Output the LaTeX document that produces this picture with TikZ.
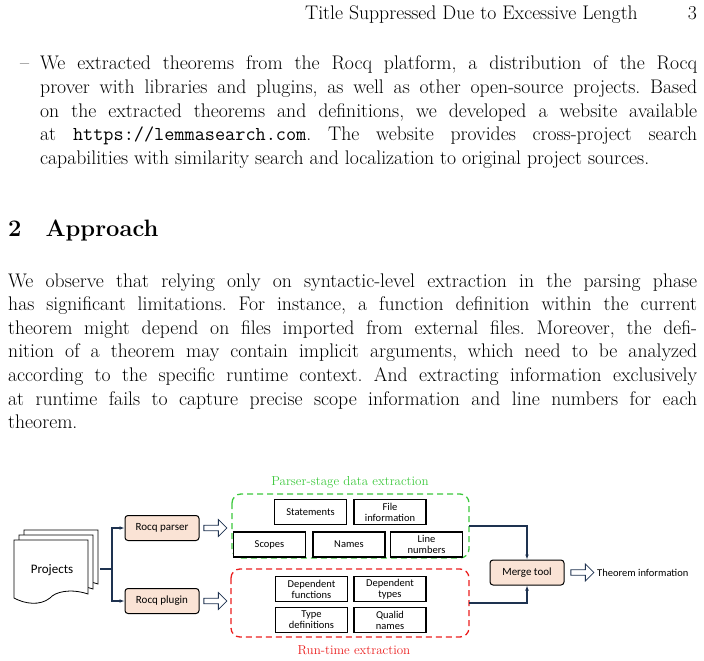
\documentclass[tikz,border=0pt]{standalone}
\usepackage{fontspec}
\setmainfont{Latin Modern Roman}
\newfontfamily\carlf{Carlito}
\usetikzlibrary{shapes.arrows,arrows.meta}
\definecolor{pk}{RGB}{250,227,213}
\definecolor{gr}{RGB}{60,200,60}
\definecolor{rd}{RGB}{235,30,30}
\definecolor{ln}{RGB}{30,50,80}
\tikzset{
  body/.style={inner sep=0pt,anchor=base west,align=justify,font=\frenchspacing\fontsize{19.7}{23.65}\selectfont},
  item/.style={draw,line width=1.2pt,fill=white,minimum width=72pt,minimum height=25pt,inner sep=1pt,align=center,font=\carlf\fontsize{10.5}{11}\selectfont},
  tool/.style={draw,line width=1pt,rounded corners=3pt,fill=pk,minimum width=74pt,minimum height=25pt,font=\carlf\fontsize{11}{12}\selectfont},
  hol/.style={single arrow,draw=ln,fill=white,line width=0.8pt,minimum height=23pt,minimum width=17pt,single arrow head extend=3pt,inner sep=1pt},
  conn/.style={ln,line width=1.2pt,-{Latex[length=5pt]}},
  grp/.style={dashed,line width=1.3pt,rounded corners=9pt,dash pattern=on 6pt off 4pt}
}
\begin{document}
\begin{tikzpicture}[x=1pt,y=-1pt]
\useasboundingbox (0,0) rectangle (704,661);
% header
\node[anchor=base east,inner sep=0,font=\fontsize{19.7}{23}\selectfont] (hd) at (638,20) {Title Suppressed Due to Excessive Length};
\node[anchor=base east,inner sep=0,font=\fontsize{19.7}{23}\selectfont] (pg) at (697,20) {3};
% bullet
\node[anchor=base west,inner sep=0,font=\fontsize{19.7}{23}\selectfont] (dash) at (20,70) {--};
\node[body,text width=657pt] (it) at (40,70) {We extracted theorems from the Rocq platform, a distribution of the Rocq\linebreak prover with libraries and plugins, as well as other open-source projects. Based\linebreak on the extracted theorems and definitions, we developed a website available\linebreak at \texttt{https://lemmasearch.com}. The website provides cross-project search\linebreak capabilities with similarity search and localization to original project sources.};
% section
\node[anchor=base west,inner sep=0,font=\bfseries\fontsize{23.7}{27}\selectfont] (sec) at (8,236) {2\hspace{24pt}Approach};
\node[body,text width=689pt] (par) at (8,287) {We observe that relying only on syntactic-level extraction in the parsing phase\linebreak has significant limitations. For instance, a function definition within the current\linebreak theorem might depend on files imported from external files. Moreover, the defi-\linebreak nition of a theorem may contain implicit arguments, which need to be analyzed\linebreak according to the specific runtime context. And extracting information exclusively\linebreak at runtime fails to capture precise scope information and line numbers for each\linebreak theorem.};
% diagram: projects stack
\foreach \d in {10,5,0}{
  \draw[fill=white,line width=0.8pt] (14+\d,540-\d) -- (88+\d,540-\d) -- (88+\d,594-\d)
     .. controls (70+\d,588-\d) and (55+\d,592-\d) .. (50+\d,598-\d)
     .. controls (40+\d,606-\d) and (25+\d,604-\d) .. (14+\d,598-\d) -- cycle;
}
\node[font=\carlf\fontsize{13}{14}\selectfont] (proj) at (52,570) {Projects};
\coordinate (pr) at (100,569);
\coordinate (sp) at (112,569);
\node[tool] (parser) at (162,528) {Rocq parser};
\node[tool] (plugin) at (162,601) {Rocq plugin};
\draw[ln,line width=1.2pt] (pr) -- (sp);
\draw[conn] (sp) |- (parser.west);
\draw[conn] (sp) |- (plugin.west);
\node[hol] (a1) at (214,528) {};
\node[hol] (a2) at (214,601) {};
% green group
\draw[grp,gr] (232,494) rectangle (469,558);
\coordinate (gR) at (469,526);
\node[font=\fontsize{13}{14}\selectfont,text=gr] (gt) at (350,482) {Parser-stage data extraction};
\node[item] (st) at (310.5,512) {Statements};
\node[item] (fi) at (390,512) {File\\information};
\node[item] (sc) at (269.5,544.5) {Scopes};
\node[item] (nm) at (349,544.5) {Names};
\node[item] (lnb) at (426.5,544.5) {Line\\numbers};
% red group
\draw[grp,rd] (231,569) rectangle (469,637);
\coordinate (rR) at (469,603);
\node[font=\fontsize{13}{14}\selectfont,text=rd] (rt) at (354,650) {Run-time extraction};
\node[item] (df) at (311.5,589) {Dependent\\functions};
\node[item] (dt) at (390,589) {Dependent\\types};
\node[item] (td) at (311.5,620) {Type\\definitions};
\node[item] (qn) at (390,620) {Qualid\\names};
% merge
\node[tool] (mg) at (527,572.5) {Merge tool};
\draw[conn] (gR) -| (mg.north);
\draw[conn] (rR) -| (mg.south);
\node[hol] (a3) at (581,572.5) {};
\node[anchor=west,inner sep=0,font=\carlf\fontsize{10.5}{11}\selectfont] (thm) at (597,573) {Theorem information};
\end{tikzpicture}
\end{document}
